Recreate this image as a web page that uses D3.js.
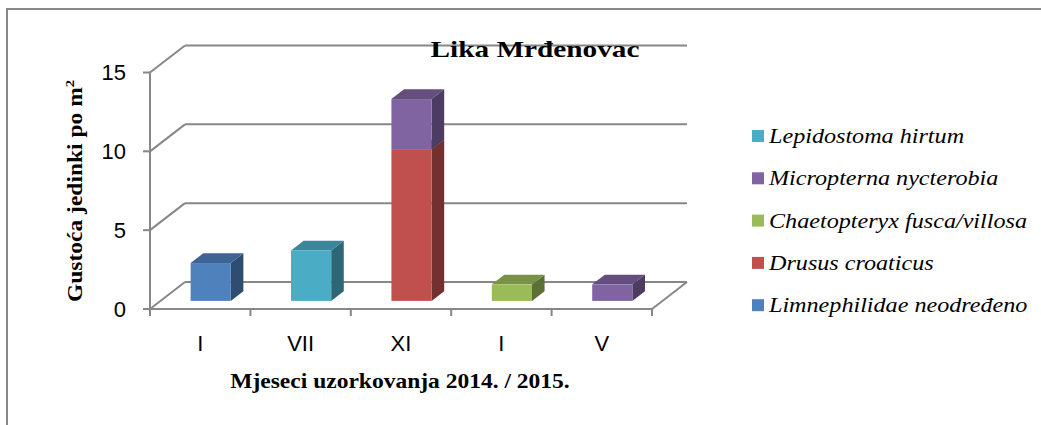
<!DOCTYPE html>
<html>
<head>
<meta charset="utf-8">
<script src="https://cdn.jsdelivr.net/npm/d3@7"></script>
<style>
  body { margin: 0; background: #fff; }
  svg { display: block; }
</style>
</head>
<body>
<div id="chart"></div>
<script>
// months on the x axis
const months = ['I', 'VII', 'XI', 'I ', 'V'];
const monthLabels = ['I', 'VII', 'XI', 'I', 'V'];
const yTicks = [0, 5, 10, 15];

// series, in stacking order (bottom first)
const seriesNames = ['Limnephilidae neodređeno', 'Drusus croaticus', 'Chaetopteryx fusca/villosa', 'Micropterna nycterobia', 'Lepidostoma hirtum'];
const seriesColors = ['#4F81BD', '#C0504D', '#9BBB59', '#8064A2', '#4BACC6'];
const limnephilidae = [2.4, 0, 0, 0, 0];
const drusus = [0, 0, 9.6, 0, 0];
const chaetopteryx = [0, 0, 0, 1.05, 0];
const micropterna = [0, 0, 3.2, 0, 1.05];
const lepidostoma = [0, 3.2, 0, 0, 0];
const seriesValues = [limnephilidae, drusus, chaetopteryx, micropterna, lepidostoma];

const W = 1041, H = 425;
const svg = d3.select('#chart').append('svg').attr('width', W).attr('height', H);
const serif = 'Liberation Serif, Times New Roman, serif';
const sans = 'Liberation Sans, Arial, sans-serif';

// outer frame
svg.append('rect')
  .attr('x', 7).attr('y', 9).attr('width', W + 10).attr('height', H + 10)
  .attr('fill', 'none').attr('stroke', '#888').attr('stroke-width', 2);

const x = d3.scaleBand().domain(months).range([150, 652]);
const y = d3.scaleLinear().domain([0, 15]).range([309, 72.5]);

// depth of the 3d box and of the bars
const DX = 35, DY = -27;
const f0 = 0.3, fd = 0.36, barW = 0.4;
const gridColor = '#878787';

const grid = svg.append('g').attr('stroke', gridColor).attr('stroke-width', 2).attr('fill', 'none');

// back wall gridlines + left wall diagonals
yTicks.forEach(v => {
  grid.append('line')
    .attr('x1', x.range()[0] + DX).attr('x2', x.range()[1] + DX)
    .attr('y1', y(v) + DY).attr('y2', y(v) + DY);
  grid.append('line')
    .attr('x1', x.range()[0]).attr('x2', x.range()[0] + DX)
    .attr('y1', y(v)).attr('y2', y(v) + DY);
  grid.append('line')
    .attr('x1', x.range()[0] - 7).attr('x2', x.range()[0])
    .attr('y1', y(v)).attr('y2', y(v));
});
// front y axis
grid.append('line')
  .attr('x1', x.range()[0]).attr('x2', x.range()[0])
  .attr('y1', y(0)).attr('y2', y(15));
// floor front + right edge
grid.append('line')
  .attr('x1', x.range()[0]).attr('x2', x.range()[1])
  .attr('y1', y(0)).attr('y2', y(0));
grid.append('line')
  .attr('x1', x.range()[1]).attr('x2', x.range()[1] + DX)
  .attr('y1', y(0)).attr('y2', y(0) + DY);
// x ticks
const tickXs = months.map(m => x(m)).concat([x.range()[1]]);
tickXs.forEach(tx => {
  grid.append('line')
    .attr('x1', tx).attr('x2', tx)
    .attr('y1', y(0)).attr('y2', y(0) + 7);
});

// y tick labels
svg.append('g').selectAll('text').data(yTicks).join('text')
  .attr('x', 126).attr('y', d => y(d))
  .attr('text-anchor', 'end').attr('dominant-baseline', 'central')
  .attr('font-family', sans).attr('font-size', 22)
  .attr('fill', '#000')
  .text(d => d);

// x tick labels
svg.append('g').selectAll('text').data(months).join('text')
  .attr('x', d => x(d) + x.bandwidth() / 2).attr('y', 343)
  .attr('text-anchor', 'middle').attr('dominant-baseline', 'central')
  .attr('font-family', sans).attr('font-size', 22)
  .attr('fill', '#000')
  .text((d, i) => monthLabels[i]);

// 3d bars
function drawBox(g, x0, x1, yb, yt, color) {
  const c = d3.color(color);
  const top = c.darker(0.7).formatHex();
  const side = c.darker(1.45).formatHex();
  const ddx = DX * fd, ddy = DY * fd;
  g.append('path')
    .attr('d', `M${x1},${yb} L${x1 + ddx},${yb + ddy} L${x1 + ddx},${yt + ddy} L${x1},${yt} Z`)
    .attr('fill', side);
  g.append('path')
    .attr('d', `M${x0},${yt} L${x0 + ddx},${yt + ddy} L${x1 + ddx},${yt + ddy} L${x1},${yt} Z`)
    .attr('fill', top);
  g.append('rect')
    .attr('x', x0).attr('y', yt).attr('width', x1 - x0).attr('height', yb - yt)
    .attr('fill', color);
}

const bars = svg.append('g');
months.forEach((m, i) => {
  const cx = x(m) + x.bandwidth() / 2 + DX * f0;
  const x0 = cx - x.bandwidth() * barW / 2, x1 = cx + x.bandwidth() * barW / 2;
  let acc = 0;
  seriesValues.forEach((vals, s) => {
    const v = vals[i];
    if (v <= 0) return;
    const yb = y(acc) + DY * f0;
    const yt = y(acc + v) + DY * f0;
    drawBox(bars, x0, x1, yb, yt, seriesColors[s]);
    acc += v;
  });
});

// title (the original text is a bit stretched sideways)
svg.append('text')
  .attr('transform', 'translate(535,57) scale(1.22,1)')
  .attr('text-anchor', 'middle')
  .attr('font-family', serif)
  .attr('font-weight', 'bold').attr('font-size', 24)
  .text('Lika Mrđenovac');

// axis titles
svg.append('text')
  .attr('transform', 'translate(400,388) scale(1.12,1)')
  .attr('text-anchor', 'middle')
  .attr('font-family', serif)
  .attr('font-weight', 'bold').attr('font-size', 21)
  .text('Mjeseci uzorkovanja 2014. / 2015.');

const yt = svg.append('text')
  .attr('transform', 'translate(82,191) rotate(-90) scale(1.12,1)')
  .attr('text-anchor', 'middle')
  .attr('font-family', serif)
  .attr('font-weight', 'bold').attr('font-size', 21);
yt.append('tspan').text('Gustoća jedinki po m');
yt.append('tspan').attr('font-size', 13).attr('dy', -8).text('2');

// legend (reverse of stacking order)
const legendOrder = d3.range(seriesNames.length).reverse();
const legend = svg.append('g');
legendOrder.forEach((s, k) => {
  const cy = 136 + k * 42.3;
  legend.append('rect')
    .attr('x', 752).attr('y', cy - 6).attr('width', 12).attr('height', 12)
    .attr('fill', seriesColors[s]);
  legend.append('text')
    .attr('transform', `translate(769,${cy}) scale(1.15,1)`)
    .attr('dominant-baseline', 'central')
    .attr('font-family', serif)
    .attr('font-style', 'italic').attr('font-size', 21)
    .text(seriesNames[s]);
});
</script>
</body>
</html>
